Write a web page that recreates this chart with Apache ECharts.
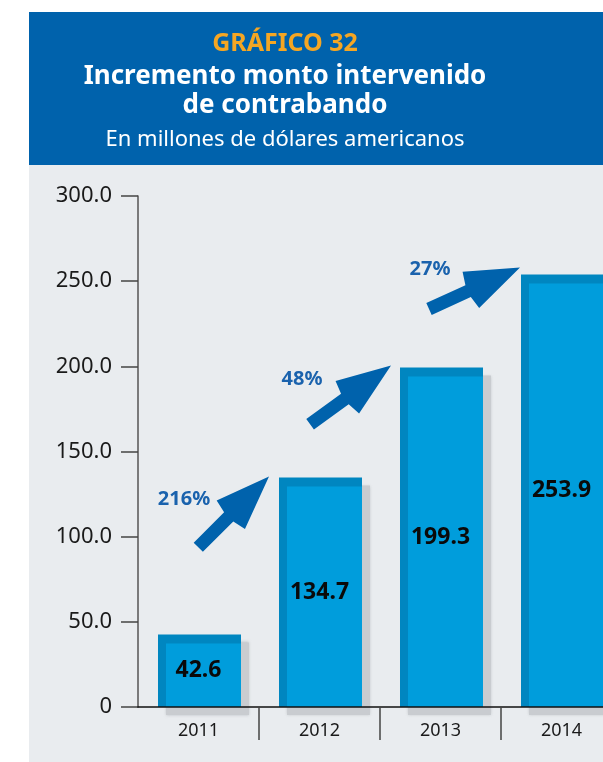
<!DOCTYPE html>
<html>
<head>
<meta charset="utf-8">
<script src="https://cdn.jsdelivr.net/npm/echarts@6/dist/echarts.min.js"></script>
<style>
  html, body { margin: 0; padding: 0; background: #fff; }
  #chart { width: 603px; height: 762px; }
</style>
</head>
<body>
<div id="chart"></div>
<script>
  // datos del gráfico
  const years = ['2011', '2012', '2013', '2014'];
  const amounts = [42.6, 134.7, 199.3, 253.9];
  const growth = ['216%', '48%', '27%'];
  const yMin = 0, yMax = 300, yStep = 50;

  const FONT = '"Noto Sans", sans-serif';
  const BLUE = '#0062ac';

  // flechas: angulo, punta respecto a la esquina de la barra siguiente, etiqueta respecto a la punta
  const arrowLayout = [
    { angle: 45, tip: [-10, -1], label: [-85, 23] },
    { angle: 36, tip: [-9, -2], label: [-89, 14] },
    { angle: 24.5, tip: [-1, -7], label: [-90, 2] }
  ];
  const arrowShape = [[0, 0], [-54, 20], [-57, 6.5], [-100, 6.5], [-100, -6.5], [-57, -6.5], [-54, -20]];

  const chart = echarts.init(document.getElementById('chart'));

  function renderBar(params, api) {
    const idx = api.value(0), v = api.value(1);
    const top = api.coord([idx, v]);
    const base = api.coord([idx, 0]);
    const bw = api.size([1, 0])[0] * 0.686;
    const x = top[0] - bw / 2 + 1;
    const h = base[1] - top[1];
    return {
      type: 'group',
      children: [
        { type: 'rect', shape: { x: x + 8, y: top[1] + 8, width: bw, height: h },
          style: { fill: '#c9ccd0', shadowBlur: 3, shadowColor: 'rgba(150,155,160,0.6)' } },
        { type: 'rect', shape: { x: x, y: top[1], width: bw, height: h }, style: { fill: '#0086c0' } },
        { type: 'rect', shape: { x: x + 8, y: top[1] + 9, width: bw - 8, height: h - 9 }, style: { fill: '#009ddc' } },
        { type: 'text', x: top[0], y: top[1] + h / 2,
          style: { text: v.toFixed(1), font: 'bold 23px ' + FONT, fill: '#0a0a0a', align: 'center', verticalAlign: 'middle' } }
      ]
    };
  }

  function renderArrow(params, api) {
    const i = params.dataIndex;
    const lay = arrowLayout[i];
    const idx = api.value(0), v = api.value(1);
    const top = api.coord([idx, v]);
    const bw = api.size([1, 0])[0] * 0.686;
    const tip = [top[0] - bw / 2 + 1 + lay.tip[0], top[1] + lay.tip[1]];
    const c = Math.cos(lay.angle * Math.PI / 180), s = Math.sin(lay.angle * Math.PI / 180);
    const pts = arrowShape.map(function (p) {
      return [tip[0] + p[0] * c + p[1] * s, tip[1] - p[0] * s + p[1] * c];
    });
    return {
      type: 'group',
      children: [
        { type: 'polygon', shape: { points: pts }, style: { fill: BLUE } },
        { type: 'text', x: tip[0] + lay.label[0], y: tip[1] + lay.label[1],
          style: { text: api.value(2), font: 'bold 20px ' + FONT, fill: '#1a62ad', align: 'center', verticalAlign: 'middle' } }
      ]
    };
  }

  const barData = amounts.map(function (v, i) { return [i, v]; });
  const arrowData = growth.map(function (g, i) { return [i + 1, amounts[i + 1], g]; });

  const option = {
    backgroundColor: '#fff',
    animation: false,
    graphic: [
      { type: 'rect', z: -10, shape: { x: 29, y: 12, width: 574, height: 153 }, style: { fill: BLUE } },
      { type: 'rect', z: -10, shape: { x: 29, y: 165, width: 574, height: 597 }, style: { fill: '#e9ecef' } },
      { type: 'text', x: 285, y: 44, style: { text: 'GRÁFICO 32', font: 'bold 25px ' + FONT, fill: '#f5a623', align: 'center', verticalAlign: 'middle' } },
      { type: 'text', x: 285, y: 77, style: { text: 'Incremento monto intervenido', font: 'bold 26px ' + FONT, fill: '#fff', align: 'center', verticalAlign: 'middle' } },
      { type: 'text', x: 285, y: 106, style: { text: 'de contrabando', font: 'bold 26px ' + FONT, fill: '#fff', align: 'center', verticalAlign: 'middle' } },
      { type: 'text', x: 285, y: 140, style: { text: 'En millones de dólares americanos', font: '22px ' + FONT, fill: '#fff', align: 'center', verticalAlign: 'middle' } }
    ],
    grid: { left: 138, top: 196, width: 484, height: 511, outerBoundsMode: 'none' },
    xAxis: {
      type: 'category',
      data: years,
      z: 5,
      axisLine: { lineStyle: { color: '#111', width: 1.5 } },
      axisTick: { show: true, length: 33, interval: function (i) { return i !== 0; }, lineStyle: { color: '#444', width: 1.5 } },
      axisLabel: { color: '#1a1a1a', fontSize: 18, fontFamily: FONT, margin: 15 }
    },
    yAxis: {
      type: 'value',
      min: yMin, max: yMax, interval: yStep,
      splitLine: { show: false },
      axisLine: { show: true, lineStyle: { color: '#555', width: 1.5 } },
      axisTick: { show: true, length: 17, lineStyle: { color: '#444', width: 1.5 } },
      axisLabel: {
        color: '#1a1a1a', fontSize: 22, fontFamily: FONT, margin: 26,
        formatter: function (v) { return v === 0 ? '0' : v.toFixed(1); }
      }
    },
    series: [
      { type: 'custom', z: 2, renderItem: renderBar, encode: { x: 0, y: 1 }, data: barData, clip: false },
      { type: 'custom', z: 3, renderItem: renderArrow, encode: { x: 0, y: 1 }, data: arrowData, clip: false }
    ]
  };

  chart.setOption(option);
</script>
</body>
</html>
